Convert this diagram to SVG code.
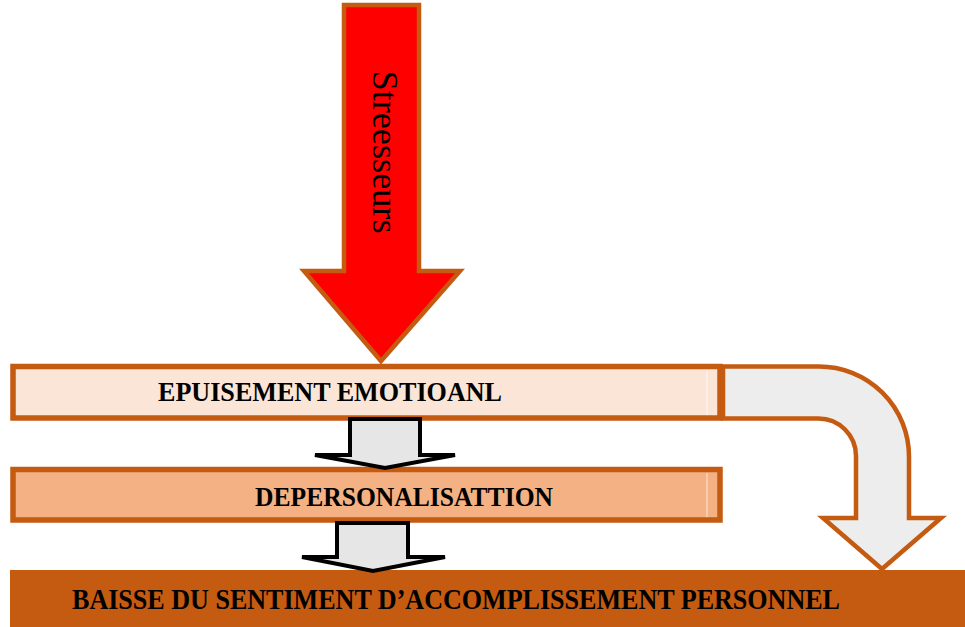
<svg xmlns="http://www.w3.org/2000/svg" width="965" height="627" viewBox="0 0 965 627">
  <style>
    .box { stroke: #C55A11; stroke-width: 5.5; }
    .lbl { font-family: "Liberation Serif", "DejaVu Serif", serif; font-weight: bold; fill: #000; }
    .step { fill: #E7E6E6; stroke: #000; stroke-width: 4; stroke-linejoin: miter; }
    .sep { stroke: #FFFFFF; stroke-width: 1; opacity: 0.7; }
  </style>
  <rect width="965" height="627" fill="#FFFFFF"/>

  <!-- nodes -->
  <g id="epuisement">
    <rect class="box" x="13" y="366.5" width="707" height="51.5" fill="#FBE5D6"/>
    <line class="sep" x1="707" y1="370" x2="707" y2="415"/>
    <text class="lbl" x="158" y="400.5" font-size="26.5" textLength="344" lengthAdjust="spacingAndGlyphs">EPUISEMENT EMOTIOANL</text>
  </g>
  <g id="depersonalisation">
    <rect class="box" x="13" y="469.5" width="707" height="50.5" fill="#F4B183"/>
    <line class="sep" x1="707" y1="473" x2="707" y2="517"/>
    <text class="lbl" x="255" y="505.5" font-size="27.5" textLength="298" lengthAdjust="spacingAndGlyphs">DEPERSONALISATTION</text>
  </g>
  <g id="accomplissement">
    <rect x="10" y="570" width="955" height="57" fill="#C55A11"/>
    <text class="lbl" x="72" y="608.5" font-size="30" textLength="768" lengthAdjust="spacingAndGlyphs">BAISSE DU SENTIMENT D’ACCOMPLISSEMENT PERSONNEL</text>
  </g>

  <!-- connectors -->
  <g id="connectors">
    <!-- stressors arrow -->
    <g id="stresseurs">
      <path d="M344 5 H419 V271 H460 L381 361 L304 271 H344 Z" fill="#FF0000" stroke="#C55A11" stroke-width="4.5" stroke-linejoin="miter"/>
      <text transform="translate(373,152) rotate(90)" x="0" y="0" text-anchor="middle" font-family="Liberation Serif, DejaVu Serif, serif" font-size="36" textLength="163" lengthAdjust="spacingAndGlyphs" fill="#000">Streesseurs</text>
    </g>
    <!-- step arrows between levels -->
    <path class="step" d="M350 419 H420 V455 H455 L385 468 L315 455 H350 Z"/>
    <path class="step" d="M337 523 H408 V557 H445 L373 571 L302 557 H337 Z"/>
    <!-- bent arrow from exhaustion to accomplishment -->
    <path d="M723 366.5 H819 A90 90 0 0 1 909 456.5 V518 H941 L882 569 L823 518 H856 V456 A37.5 37.5 0 0 0 818.5 418.5 H723 Z" fill="#EDEDED" stroke="#C55A11" stroke-width="4.5" stroke-linejoin="miter"/>
  </g>
</svg>
